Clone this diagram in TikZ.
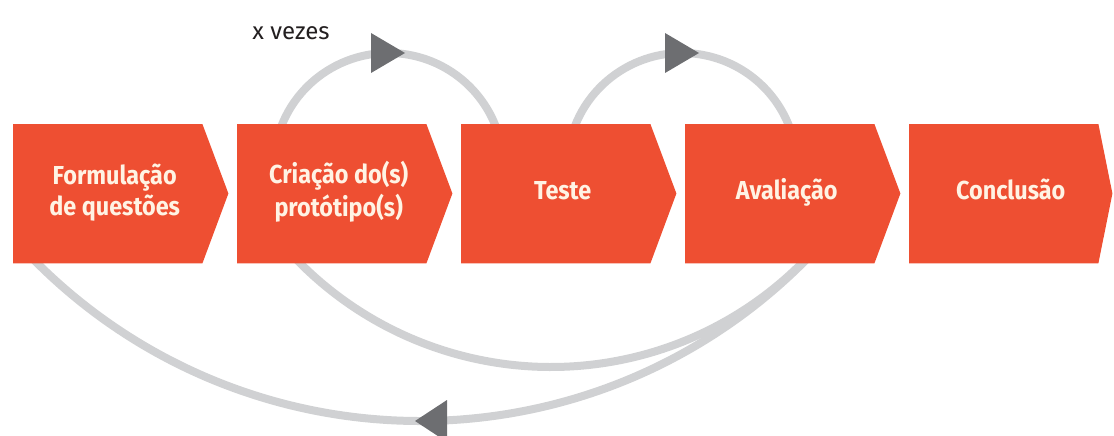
\documentclass[tikz,border=0pt]{standalone}
\usepackage{fontspec}
\usetikzlibrary{backgrounds}
\setmainfont{Fira Sans}
\newfontfamily\boxfont{Fira Sans}[FakeStretch=0.9]
\definecolor{boxred}{HTML}{EE4F32}
\definecolor{arcgray}{HTML}{D0D1D3}
\definecolor{tipgray}{HTML}{6D6E71}
\definecolor{boxtext}{HTML}{FFF3E4}
\definecolor{labeltext}{HTML}{231F20}
\tikzset{
  stepbox/.style={rectangle, minimum width=189pt, minimum height=139pt,
    inner sep=0pt, anchor=north west, text=boxtext, align=center,
    font=\boxfont\bfseries\fontsize{26}{31}\selectfont},
  arcline/.style={draw=arcgray, line width=8pt},
  tipfill/.style={fill=tipgray},
}
\newcommand{\tx}[1]{\hspace*{14pt}\strut#1}
\begin{document}
\begin{tikzpicture}[x=1pt,y=-1pt]
\useasboundingbox (0,0) rectangle (1114,436);
% boxes (named nodes; shapes are filled on the background layer)
\node[stepbox] (b1) at (13,124) {\tx{Formulação}\\\tx{de questões}};
\node[stepbox] (b2) at (237,124) {\tx{Criação do(s)}\\\tx{protótipo(s)}};
\node[stepbox] (b3) at (461,124) {\tx{Teste}};
\node[stepbox] (b4) at (685,124) {\tx{Avaliação}};
\node[stepbox] (b5) at (909,124) {\tx{Conclusão}};
% arc centres
\coordinate (ctop1) at (388.5,168);
\coordinate (ctop2) at (682,168);
\coordinate (cout) at (420,-122);
\coordinate (cin) at (551,12);
\begin{scope}[on background layer]
  \draw[arcline] (ctop1) ++(198:115) arc[start angle=198, end angle=342, radius=115];
  \draw[arcline] (ctop2) ++(198:115) arc[start angle=198, end angle=342, radius=115];
  \draw[arcline] (cout) ++(137:543) arc[start angle=137, end angle=43, radius=543];
  \draw[arcline] (cin) ++(137:355) arc[start angle=137, end angle=43, radius=355];
  \foreach \b in {b1,b2,b3,b4}
    \fill[boxred] (\b.north west) -- (\b.north east) -- ++(26,69.5) -- (\b.south east) -- (\b.south west) -- cycle;
  \fill[boxred] (b5.north west) -- (b5.north east) -- ++(14,69.5) -- (b5.south east) -- (b5.south west) -- cycle;
\end{scope}
% arrowheads
\coordinate (p1) at (388,53);
\coordinate (p2) at (682,53);
\coordinate (p3) at (431,421);
\fill[tipfill] (p1) ++(-17,-20) -- ++(34,20) -- ++(-34,20) -- cycle;
\fill[tipfill] (p2) ++(-17,-20) -- ++(34,20) -- ++(-34,20) -- cycle;
\fill[tipfill] (p3) ++(16,-21) -- ++(-32,21) -- ++(32,21) -- cycle;
% label
\node[text=labeltext, font=\fontsize{24}{28}\selectfont] (lbl) at (291,33) {x vezes};
\end{tikzpicture}
\end{document}
